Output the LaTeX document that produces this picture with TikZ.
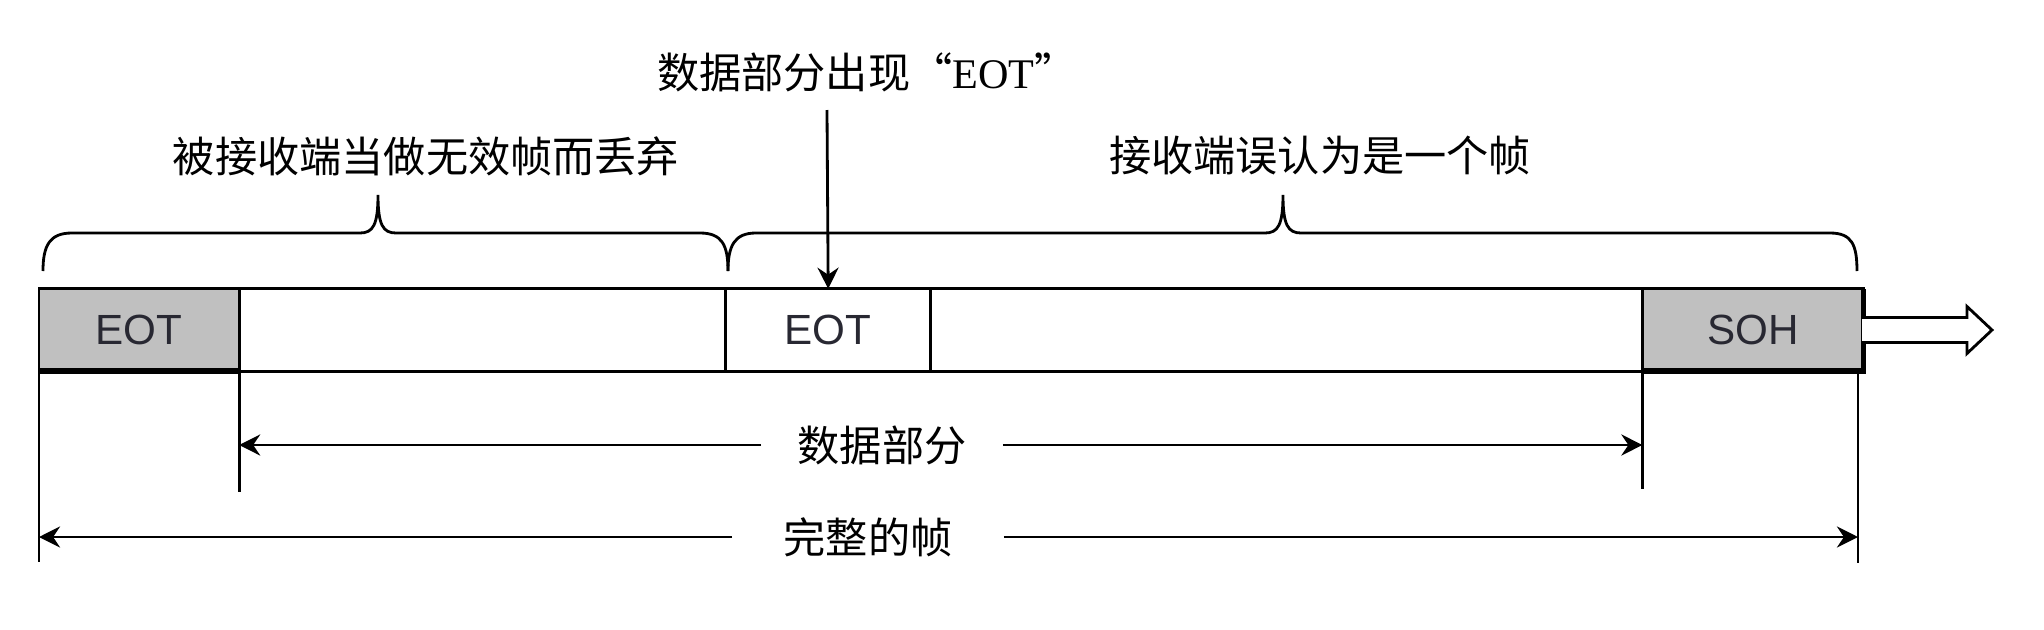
\documentclass[tikz,border=0pt]{standalone}
\usepackage{fontspec}
\setmainfont{Liberation Sans}
\newfontfamily\cjk{Noto Sans CJK SC}
\newfontfamily\quotefont{Liberation Serif}
\usepackage{xcolor}
\usepackage{tikz}
\usetikzlibrary{arrows.meta, positioning, calc}
\definecolor{cellgray}{RGB}{192,192,192}
\definecolor{txtgray}{RGB}{40,40,50}

\begin{document}
\begin{tikzpicture}[x=0.01cm, y=-0.01cm, line width=0.8pt, font=\fontsize{12pt}{14pt}\selectfont]
\tikzstyle{cell}=[rectangle, draw, minimum height=0.825cm, inner sep=0pt, outer sep=0pt, text=txtgray]
\tikzstyle{ctrl}=[cell, fill=cellgray]
\tikzstyle{lbl}=[font=\cjk\fontsize{12pt}{14pt}\selectfont, inner sep=0pt]
\tikzstyle{dim}=[-{Stealth[length=6pt, width=6pt, inset=2pt]}]
\tikzstyle{bracepath}=[line width=0.8pt]

\useasboundingbox (0,0) rectangle (2044,630);

% the frame
\node[ctrl, minimum width=2cm, anchor=west] (eot1) at (39,330) {EOT};
\node[cell, minimum width=4.865cm, right=0pt of eot1] (data1) {};
\node[cell, minimum width=2.045cm, right=0pt of data1] (eot2) {EOT};
\node[cell, minimum width=7.115cm, right=0pt of eot2] (data2) {};
\node[ctrl, minimum width=2.21cm, right=0pt of data2] (soh) {SOH};

% shadows of the control characters
\draw[line width=1.6pt] (eot1.south west) -- (eot1.south east);
\draw[line width=1.6pt] (soh.south west) -- (soh.south east) -- (soh.north east);

% hollow arrow
\draw[fill=white] (1862,317.5) -- (1967,317.5) -- (1967,306.5) -- (1992,330)
  -- (1967,353.5) -- (1967,342.5) -- (1862,342.5);

% braces
\draw[bracepath] (43,271) .. controls (43,245) and (50,233) .. (72,233) -- (360,233)
  .. controls (373,233) and (378,225) .. (378,195) .. controls (378,225) and (383,233) .. (396,233)
  -- (700,233) .. controls (722,233) and (728,245) .. (728,271);
\draw[bracepath] (728,271) .. controls (728,245) and (735,233) .. (756,233) -- (1265,233)
  .. controls (1278,233) and (1283,225) .. (1283,195) .. controls (1283,225) and (1288,233) .. (1301,233)
  -- (1830,233) .. controls (1852,233) and (1857,245) .. (1857,271);

\node[lbl] (drop) at (426,156) {被接收端当做无效帧而丢弃};
\node[lbl] (misread) at (1320,156) {接收端误认为是一个帧};

% EOT inside the data
\node[lbl] (note) at (867,72) {数据部分出现“{\quotefont EOT}”};
\coordinate (notetail) at (827,110);
\draw[dim] (notetail) -- (eot2.north);

% dimension lines
\coordinate (frameend) at (1858,371.5);
\draw (eot1.south east) -- ++(0,121);
\draw (soh.south west) -- ++(0,118);
\draw (eot1.south west) -- ++(0,191);
\draw (frameend) -- ++(0,191);

\node[lbl, inner xsep=0.35cm] (datalen) at (882,445) {数据部分};
\draw[dim] (datalen.west) -- (eot1.east |- datalen.west);
\draw[dim] (datalen.east) -- (soh.west |- datalen.east);

\node[lbl, inner xsep=0.5cm] (framelen) at (868,537) {完整的帧};
\draw[dim] (framelen.west) -- (eot1.west |- framelen.west);
\draw[dim] (framelen.east) -- (frameend |- framelen.east);
\end{tikzpicture}
\end{document}
